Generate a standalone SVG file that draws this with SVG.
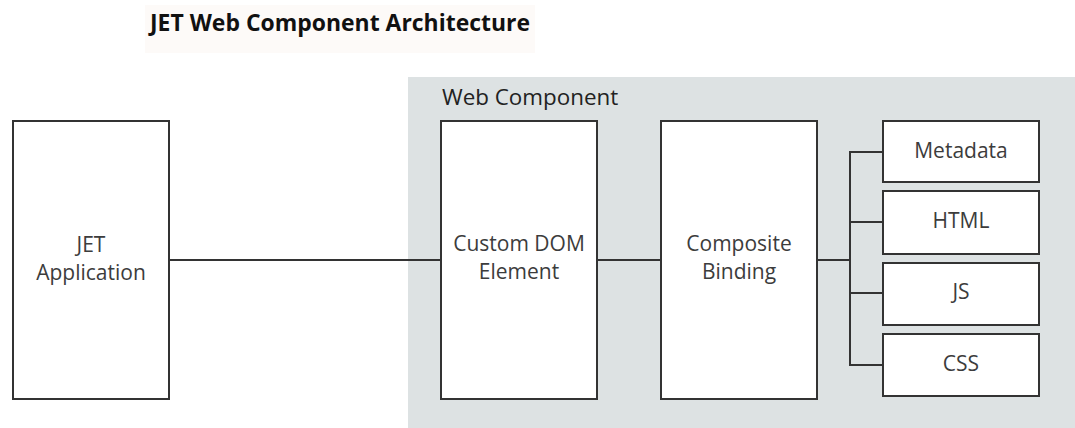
<svg xmlns="http://www.w3.org/2000/svg" width="1075" height="428" viewBox="0 0 1075 428">
<style>
.box{fill:#fff;stroke:#333;stroke-width:2}
.lbl{font-family:"Open Sans","Noto Sans",sans-serif;font-size:21px;fill:#3c3c3c;text-anchor:middle}
.con{fill:none;stroke:#333;stroke-width:2}
</style>
<rect x="0" y="0" width="1075" height="428" fill="#fff"/>
<rect x="145" y="5" width="390" height="48" fill="#fdfaf8"/>
<text x="150" y="31" font-family="'Open Sans','Noto Sans',sans-serif" font-size="23" font-weight="bold" fill="#111" textLength="380" lengthAdjust="spacingAndGlyphs">JET Web Component Architecture</text>
<g id="web-component">
<rect x="408" y="77" width="667" height="351" fill="#dde2e3"/>
<text x="442" y="105" font-family="'Open Sans','Noto Sans',sans-serif" font-size="22.4" fill="#222">Web Component</text>
</g>
<g id="connectors">
<line class="con" x1="169" y1="260" x2="441" y2="260"/>
<line class="con" x1="597" y1="260" x2="661" y2="260"/>
<line class="con" x1="817" y1="260" x2="850" y2="260"/>
<polyline class="con" points="883,152 850,152 850,365 883,365"/>
<line class="con" x1="850" y1="222" x2="883" y2="222"/>
<line class="con" x1="850" y1="293" x2="883" y2="293"/>
</g>
<g id="jet-application">
<rect class="box" x="13" y="121" width="156" height="278"/>
<text class="lbl" x="91" y="252">JET</text>
<text class="lbl" x="91" y="280">Application</text>
</g>
<g id="custom-dom-element">
<rect class="box" x="441" y="121" width="156" height="278"/>
<text class="lbl" x="519" y="251">Custom DOM</text>
<text class="lbl" x="519" y="279">Element</text>
</g>
<g id="composite-binding">
<rect class="box" x="661" y="121" width="156" height="278"/>
<text class="lbl" x="739" y="251">Composite</text>
<text class="lbl" x="739" y="279">Binding</text>
</g>
<g id="metadata">
<rect class="box" x="883" y="121" width="156" height="61"/>
<text class="lbl" x="961" y="158">Metadata</text>
</g>
<g id="html">
<rect class="box" x="883" y="191" width="156" height="63"/>
<text class="lbl" x="961" y="228">HTML</text>
</g>
<g id="js">
<rect class="box" x="883" y="263" width="156" height="62"/>
<text class="lbl" x="961" y="299">JS</text>
</g>
<g id="css">
<rect class="box" x="883" y="334" width="156" height="62"/>
<text class="lbl" x="961" y="371">CSS</text>
</g>
</svg>
